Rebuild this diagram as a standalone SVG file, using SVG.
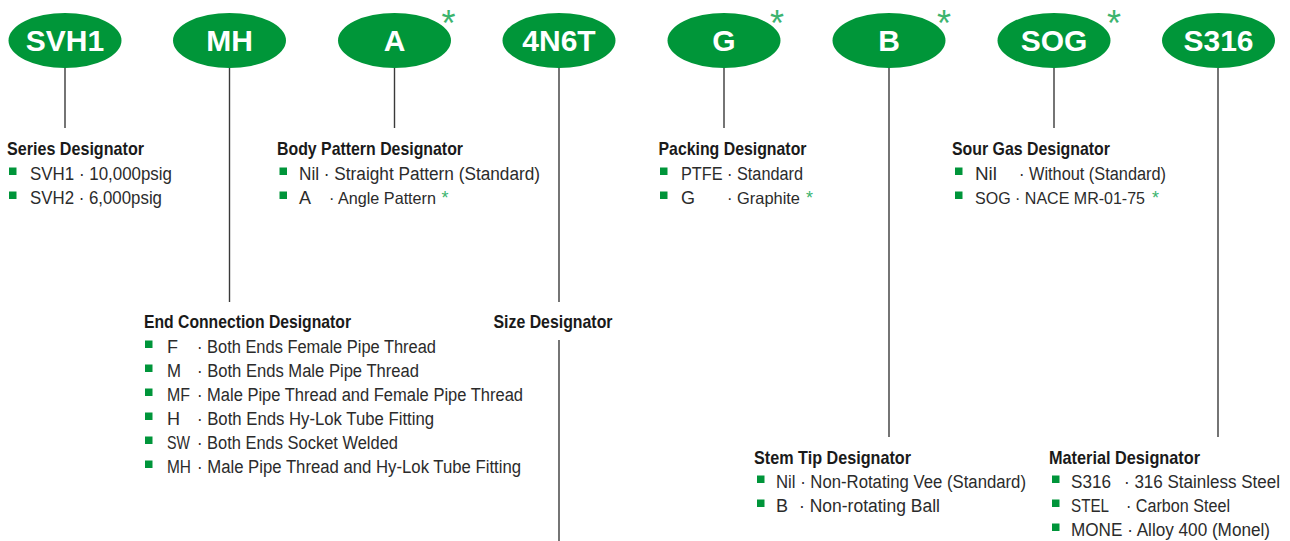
<svg xmlns="http://www.w3.org/2000/svg" width="1290" height="541" viewBox="0 0 1290 541">
<style>
.node{fill:#009639}
.lbl{font-family:"Liberation Sans",Arial,sans-serif;font-weight:bold;font-size:30px;fill:#ffffff;text-anchor:middle}
.star{font-family:"Liberation Sans",Arial,sans-serif;font-size:36px;fill:#3cb46e;text-anchor:middle}
.sstar{font-family:"Liberation Sans",Arial,sans-serif;font-size:18px;fill:#3cb46e}
.hd{font-family:"Liberation Sans",Arial,sans-serif;font-weight:bold;font-size:18.5px;fill:#1a1a1a}
.tx{font-family:"Liberation Sans",Arial,sans-serif;font-size:18px;fill:#2b2b2b}
.tn{font-size:16.5px}
.bl{fill:#00953a}
.ln{stroke:#3a3a3a;stroke-width:1.4;fill:none}
</style>
<rect width="1290" height="541" fill="#ffffff"/>
<g id="connectors">
<line class="ln" x1="65" y1="68" x2="65" y2="128"/>
<line class="ln" x1="229.5" y1="68" x2="229.5" y2="302"/>
<line class="ln" x1="394.5" y1="68" x2="394.5" y2="128"/>
<line class="ln" x1="559" y1="68" x2="559" y2="302"/>
<line class="ln" x1="559" y1="340" x2="559" y2="541"/>
<line class="ln" x1="724" y1="68" x2="724" y2="128"/>
<line class="ln" x1="889" y1="68" x2="889" y2="437"/>
<line class="ln" x1="1054" y1="68" x2="1054" y2="128"/>
<line class="ln" x1="1218" y1="68" x2="1218" y2="437"/>
</g>
<g id="node-SVH1"><ellipse class="node" cx="65" cy="40.5" rx="56.5" ry="27.5"/><text class="lbl" x="65" y="51">SVH1</text></g>
<g id="node-MH"><ellipse class="node" cx="229.5" cy="40.5" rx="56.5" ry="27.5"/><text class="lbl" x="229.5" y="51">MH</text></g>
<g id="node-A"><ellipse class="node" cx="394.5" cy="40.5" rx="56.5" ry="27.5"/><text class="lbl" x="394.5" y="51">A</text><text class="star" x="448.5" y="36">*</text></g>
<g id="node-4N6T"><ellipse class="node" cx="559" cy="40.5" rx="56.5" ry="27.5"/><text class="lbl" x="559" y="51">4N6T</text></g>
<g id="node-G"><ellipse class="node" cx="724" cy="40.5" rx="56.5" ry="27.5"/><text class="lbl" x="724" y="51">G</text><text class="star" x="777" y="36">*</text></g>
<g id="node-B"><ellipse class="node" cx="889" cy="40.5" rx="56.5" ry="27.5"/><text class="lbl" x="889" y="51">B</text><text class="star" x="944" y="36">*</text></g>
<g id="node-SOG"><ellipse class="node" cx="1054" cy="40.5" rx="56.5" ry="27.5"/><text class="lbl" x="1054" y="51">SOG</text><text class="star" x="1114" y="36">*</text></g>
<g id="node-S316"><ellipse class="node" cx="1218.5" cy="40.5" rx="56.5" ry="27.5"/><text class="lbl" x="1218.5" y="51">S316</text></g>

<g id="series-designator">
<text class="hd" x="7" y="155" textLength="137" lengthAdjust="spacingAndGlyphs">Series Designator</text>
<rect class="bl" x="9" y="167.5" width="7.5" height="7.5"/>
<text class="tx" x="30" y="180" textLength="142" lengthAdjust="spacingAndGlyphs">SVH1 · 10,000psig</text>
<rect class="bl" x="9" y="191.5" width="7.5" height="7.5"/>
<text class="tx" x="30" y="204" textLength="132" lengthAdjust="spacingAndGlyphs">SVH2 · 6,000psig</text>
</g>

<g id="body-pattern-designator">
<text class="hd" x="277" y="155" textLength="186" lengthAdjust="spacingAndGlyphs">Body Pattern Designator</text>
<rect class="bl" x="279.5" y="167.5" width="7.5" height="7.5"/>
<text class="tx" x="299" y="180" textLength="241" lengthAdjust="spacingAndGlyphs">Nil · Straight Pattern (Standard)</text>
<rect class="bl" x="279.5" y="191.5" width="7.5" height="7.5"/>
<text class="tx" x="299" y="204">A</text>
<text class="tx tn" x="329" y="204" textLength="107" lengthAdjust="spacingAndGlyphs">· Angle Pattern</text>
<text class="sstar" x="441.5" y="204">*</text>
</g>

<g id="packing-designator">
<text class="hd" x="658.5" y="155" textLength="148" lengthAdjust="spacingAndGlyphs">Packing Designator</text>
<rect class="bl" x="660" y="167.5" width="7.5" height="7.5"/>
<text class="tx" x="681" y="180" textLength="122" lengthAdjust="spacingAndGlyphs">PTFE · Standard</text>
<rect class="bl" x="660" y="191.5" width="7.5" height="7.5"/>
<text class="tx" x="681" y="204">G</text>
<text class="tx tn" x="727" y="204" textLength="73" lengthAdjust="spacingAndGlyphs">· Graphite</text>
<text class="sstar" x="806" y="204">*</text>
</g>

<g id="sour-gas-designator">
<text class="hd" x="952" y="155" textLength="158" lengthAdjust="spacingAndGlyphs">Sour Gas Designator</text>
<rect class="bl" x="955" y="167.5" width="7.5" height="7.5"/>
<text class="tx" x="975" y="180" textLength="22" lengthAdjust="spacingAndGlyphs">Nil</text>
<text class="tx" x="1019" y="180" textLength="147" lengthAdjust="spacingAndGlyphs">· Without (Standard)</text>
<rect class="bl" x="955" y="191.5" width="7.5" height="7.5"/>
<text class="tx tn" x="975" y="204" textLength="170" lengthAdjust="spacingAndGlyphs">SOG · NACE MR-01-75</text>
<text class="sstar" x="1152" y="204">*</text>
</g>

<g id="end-connection-designator">
<text class="hd" x="144" y="328" textLength="207" lengthAdjust="spacingAndGlyphs">End Connection Designator</text>
<rect class="bl" x="145" y="340.5" width="7.5" height="7.5"/>
<text class="tx" x="167" y="353">F</text>
<text class="tx" x="197" y="353" textLength="239" lengthAdjust="spacingAndGlyphs">· Both Ends Female Pipe Thread</text>
<rect class="bl" x="145" y="364.5" width="7.5" height="7.5"/>
<text class="tx" x="167" y="377" textLength="14" lengthAdjust="spacingAndGlyphs">M</text>
<text class="tx" x="197" y="377" textLength="222" lengthAdjust="spacingAndGlyphs">· Both Ends Male Pipe Thread</text>
<rect class="bl" x="145" y="388.5" width="7.5" height="7.5"/>
<text class="tx" x="167" y="401" textLength="23" lengthAdjust="spacingAndGlyphs">MF</text>
<text class="tx" x="197" y="401" textLength="326" lengthAdjust="spacingAndGlyphs">· Male Pipe Thread and Female Pipe Thread</text>
<rect class="bl" x="145" y="412.5" width="7.5" height="7.5"/>
<text class="tx" x="167" y="425">H</text>
<text class="tx" x="197" y="425" textLength="237" lengthAdjust="spacingAndGlyphs">· Both Ends Hy-Lok Tube Fitting</text>
<rect class="bl" x="145" y="436.5" width="7.5" height="7.5"/>
<text class="tx" x="167" y="449" textLength="23" lengthAdjust="spacingAndGlyphs">SW</text>
<text class="tx" x="197" y="449" textLength="201" lengthAdjust="spacingAndGlyphs">· Both Ends Socket Welded</text>
<rect class="bl" x="145" y="460.5" width="7.5" height="7.5"/>
<text class="tx" x="167" y="473" textLength="24" lengthAdjust="spacingAndGlyphs">MH</text>
<text class="tx" x="197" y="473" textLength="324" lengthAdjust="spacingAndGlyphs">· Male Pipe Thread and Hy-Lok Tube Fitting</text>
</g>

<g id="size-designator">
<text class="hd" x="493.5" y="328" textLength="119" lengthAdjust="spacingAndGlyphs">Size Designator</text>
</g>

<g id="stem-tip-designator">
<text class="hd" x="754" y="464" textLength="157" lengthAdjust="spacingAndGlyphs">Stem Tip Designator</text>
<rect class="bl" x="757" y="475.5" width="7.5" height="7.5"/>
<text class="tx" x="776" y="488" textLength="250" lengthAdjust="spacingAndGlyphs">Nil · Non-Rotating Vee (Standard)</text>
<rect class="bl" x="757" y="499.5" width="7.5" height="7.5"/>
<text class="tx" x="776" y="512">B</text>
<text class="tx" x="799" y="512" textLength="141" lengthAdjust="spacingAndGlyphs">· Non-rotating Ball</text>
</g>

<g id="material-designator">
<text class="hd" x="1049" y="464" textLength="151" lengthAdjust="spacingAndGlyphs">Material Designator</text>
<rect class="bl" x="1052" y="475.5" width="7.5" height="7.5"/>
<text class="tx" x="1071" y="488" textLength="40" lengthAdjust="spacingAndGlyphs">S316</text>
<text class="tx" x="1124" y="488" textLength="156" lengthAdjust="spacingAndGlyphs">· 316 Stainless Steel</text>
<rect class="bl" x="1052" y="499.5" width="7.5" height="7.5"/>
<text class="tx" x="1071" y="512" textLength="38" lengthAdjust="spacingAndGlyphs">STEL</text>
<text class="tx" x="1126" y="512" textLength="104" lengthAdjust="spacingAndGlyphs">· Carbon Steel</text>
<rect class="bl" x="1052" y="523.5" width="7.5" height="7.5"/>
<text class="tx" x="1071" y="536" textLength="199" lengthAdjust="spacingAndGlyphs">MONE · Alloy 400 (Monel)</text>
</g>
</svg>
